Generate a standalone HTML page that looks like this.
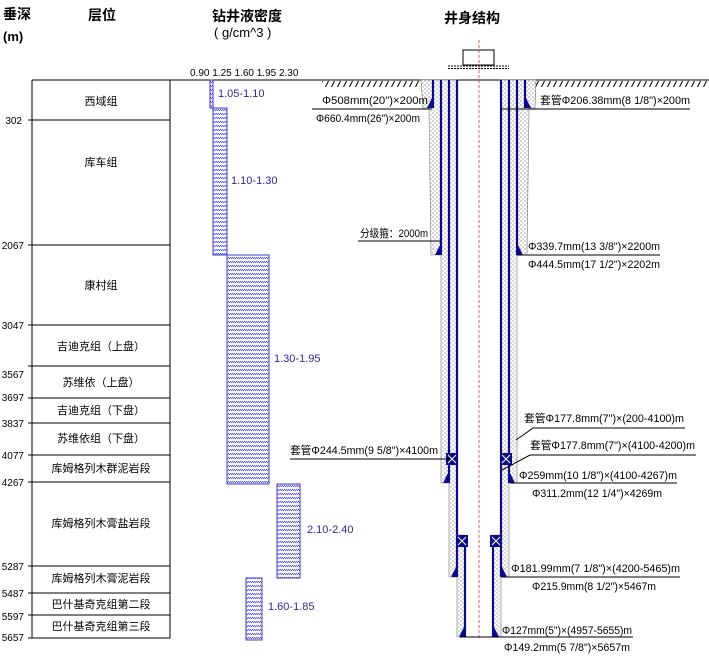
<!DOCTYPE html>
<html><head><meta charset="utf-8"><style>
body{margin:0;background:#fff}
svg{display:block;font-family:"Liberation Sans","Noto Sans CJK SC",sans-serif}
.t{font-size:11px;fill:#000}
.b{font-size:11px;fill:#2a2a9a}
</style></head><body>
<svg width="709" height="671" viewBox="0 0 709 671" xmlns="http://www.w3.org/2000/svg">
<defs>
<pattern id="h" width="4" height="4" patternUnits="userSpaceOnUse">
<rect width="4" height="4" fill="#fff"/><path d="M0,1 L2,3 M2,1 L4,3" stroke="#3a3ad0" stroke-width="0.8"/>
</pattern>
<pattern id="d" width="4" height="4" patternUnits="userSpaceOnUse">
<rect width="4" height="4" fill="#fff"/><circle cx="1" cy="1" r="0.6" fill="#666"/><circle cx="3" cy="3" r="0.6" fill="#888"/>
</pattern>
<pattern id="g" width="6" height="8" patternUnits="userSpaceOnUse">
<path d="M5,0 L1,8" stroke="#000" stroke-width="1"/>
</pattern>
</defs>
<text x="3" y="19" font-size="14" font-weight="bold">垂深</text>
<text x="3" y="41" font-size="13" font-weight="bold">(m)</text>
<text x="88" y="20" font-size="14" font-weight="bold">层位</text>
<text x="212" y="21" font-size="14" font-weight="bold">钻井液密度</text>
<text x="214" y="37" font-size="13">( g/cm^3 )</text>
<text x="444" y="23" font-size="14" font-weight="bold">井身结构</text>
<g stroke="#000" stroke-width="1" fill="none">
<line x1="32" y1="80" x2="32" y2="638"/><line x1="170" y1="80" x2="170" y2="638"/>
<line x1="32" y1="80" x2="320" y2="80"/>
<line x1="28" y1="120" x2="170" y2="120"/><line x1="28" y1="245" x2="170" y2="245"/>
<line x1="28" y1="325" x2="170" y2="325"/><line x1="28" y1="366" x2="170" y2="366"/>
<line x1="28" y1="398" x2="170" y2="398"/><line x1="28" y1="423" x2="170" y2="423"/>
<line x1="28" y1="455" x2="170" y2="455"/><line x1="28" y1="482" x2="170" y2="482"/>
<line x1="28" y1="566" x2="170" y2="566"/><line x1="28" y1="593" x2="170" y2="593"/>
<line x1="28" y1="615" x2="170" y2="615"/><line x1="28" y1="638" x2="170" y2="638"/>
</g>
<g text-anchor="end" font-size="10">
<text x="22" y="124">302</text><text x="24" y="249">2067</text>
<text x="24" y="329">3047</text><text x="24" y="378">3567</text>
<text x="24" y="401">3697</text><text x="24" y="427">3837</text>
<text x="24" y="459">4077</text><text x="24" y="486">4267</text>
<text x="24" y="570">5287</text><text x="24" y="597">5487</text>
<text x="24" y="620">5597</text><text x="24" y="641">5657</text>
</g>
<g class="t" text-anchor="middle">
<text x="101" y="105">西域组</text><text x="101" y="166">库车组</text>
<text x="101" y="289">康村组</text><text x="101" y="350">吉迪克组（上盘）</text>
<text x="101" y="386">苏维依（上盘）</text><text x="101" y="414">吉迪克组（下盘）</text>
<text x="101" y="442">苏维依组（下盘）</text><text x="101" y="472">库姆格列木群泥岩段</text>
<text x="101" y="527">库姆格列木膏盐岩段</text><text x="101" y="582">库姆格列木膏泥岩段</text>
<text x="101" y="608">巴什基奇克组第二段</text><text x="101" y="630">巴什基奇克组第三段</text>
</g>
<text x="190" y="76" font-size="10">0.90 1.25 1.60 1.95 2.30</text>
<g stroke="#3a3ad0" stroke-width="1" fill="url(#h)">
<rect x="210" y="80" width="3" height="28"/>
<rect x="213" y="108" width="14" height="147"/>
<rect x="227" y="255" width="42" height="229"/>
<rect x="277" y="484" width="23" height="94"/>
<rect x="246" y="578" width="16" height="62"/>
</g>
<text class="b" x="218" y="97">1.05-1.10</text>
<text class="b" x="231" y="184">1.10-1.30</text>
<text class="b" x="274" y="362">1.30-1.95</text>
<text class="b" x="307" y="533">2.10-2.40</text>
<text class="b" x="268" y="610">1.60-1.85</text>
<line x1="320" y1="80" x2="709" y2="80" stroke="#000"/>
<rect x="322" y="81" width="99" height="6" fill="url(#g)"/>
<rect x="534" y="81" width="175" height="6" fill="url(#g)"/>
<rect x="463" y="50" width="31" height="15" fill="#fff" stroke="#000"/>
<line x1="448" y1="66" x2="509" y2="66" stroke="#000" stroke-dasharray="2,1"/>
<line x1="448" y1="68.5" x2="509" y2="68.5" stroke="#000" stroke-dasharray="2,1"/>
<path d="M421,80 L457,80 L457,535 L465,535 L465,637 L457,637 L457,577 L449,577 L449,483 L441,483 L441,255 L431,255 L429,108 L423,108 Z" fill="url(#d)" stroke="#777" stroke-width="0.6"/>
<path d="M536,80 L501,80 L501,535 L493,535 L493,637 L501,637 L501,577 L509,577 L509,483 L517,483 L517,255 L527,255 L529,108 L535,108 Z" fill="url(#d)" stroke="#777" stroke-width="0.6"/>
<g stroke="#0a0a8a" stroke-width="2.2">
<line x1="433" y1="80" x2="433" y2="108"/><line x1="525" y1="80" x2="525" y2="108"/>
<line x1="441" y1="80" x2="441" y2="255"/><line x1="517" y1="80" x2="517" y2="255"/>
<line x1="449" y1="80" x2="449" y2="483"/><line x1="509" y1="80" x2="509" y2="483"/>
<line x1="457" y1="80" x2="457" y2="577"/><line x1="501" y1="80" x2="501" y2="577"/>
<line x1="465" y1="535" x2="465" y2="637"/><line x1="493" y1="535" x2="493" y2="637"/>
</g>
<g fill="#0a0a8a">
<path d="M433,96 L433,108 L427,108 Z"/><path d="M525,96 L525,108 L531,108 Z"/>
<path d="M441,243 L441,255 L435,255 Z"/><path d="M517,243 L517,255 L523,255 Z"/>
<path d="M449,471 L449,483 L443,483 Z"/><path d="M509,471 L509,483 L515,483 Z"/>
<path d="M457,565 L457,577 L451,577 Z"/><path d="M501,565 L501,577 L507,577 Z"/>
<path d="M465,625 L465,637 L459,637 Z"/><path d="M493,625 L493,637 L499,637 Z"/>
<rect x="446" y="453" width="12" height="12"/><rect x="500" y="453" width="12" height="12"/>
<rect x="456" y="535" width="12" height="12"/><rect x="490" y="535" width="12" height="12"/>
</g>
<g stroke="#fff" stroke-width="1"><path d="M448,455 L456,463 M456,455 L448,463 M502,455 L510,463 M510,455 L502,463 M458,537 L466,545 M466,537 L458,545 M492,537 L500,545 M500,537 L492,545"/></g>
<line x1="479" y1="40" x2="479" y2="640" stroke="#e03030" stroke-width="0.8" stroke-dasharray="3,2"/>
<line x1="460" y1="637" x2="633" y2="637" stroke="#000"/>
<g stroke="#000" stroke-width="1" fill="none">
<line x1="312" y1="109" x2="432" y2="109"/>
<line x1="500" y1="109" x2="690" y2="109"/>
<line x1="358" y1="241" x2="440" y2="241"/>
<line x1="517" y1="255" x2="660" y2="255"/>
<path d="M516,440 L533,428 L685,428"/>
<path d="M502,470 L530,455 L696,455"/>
<line x1="290" y1="459" x2="450" y2="459"/>
<line x1="510" y1="483" x2="677" y2="483"/>
<line x1="502" y1="577" x2="680" y2="577"/>
</g>
<g class="t">
<text x="322" y="104" textLength="106" lengthAdjust="spacingAndGlyphs">Φ508mm(20")×200m</text>
<text x="316" y="122" textLength="104" lengthAdjust="spacingAndGlyphs">Φ660.4mm(26")×200m</text>
<text x="540" y="104" textLength="150" lengthAdjust="spacingAndGlyphs">套管Φ206.38mm(8 1/8")×200m</text>
<text x="360" y="237" textLength="68" lengthAdjust="spacingAndGlyphs">分级箍：2000m</text>
<text x="528" y="250" textLength="132" lengthAdjust="spacingAndGlyphs">Φ339.7mm(13 3/8")×2200m</text>
<text x="528" y="268" textLength="132" lengthAdjust="spacingAndGlyphs">Φ444.5mm(17 1/2")×2202m</text>
<text x="524" y="422" textLength="160" lengthAdjust="spacingAndGlyphs">套管Φ177.8mm(7")×(200-4100)m</text>
<text x="530" y="449" textLength="165" lengthAdjust="spacingAndGlyphs">套管Φ177.8mm(7")×(4100-4200)m</text>
<text x="290" y="454" textLength="148" lengthAdjust="spacingAndGlyphs">套管Φ244.5mm(9 5/8")×4100m</text>
<text x="519" y="479" textLength="158" lengthAdjust="spacingAndGlyphs">Φ259mm(10 1/8")×(4100-4267)m</text>
<text x="532" y="497" textLength="130" lengthAdjust="spacingAndGlyphs">Φ311.2mm(12 1/4")×4269m</text>
<text x="511" y="572" textLength="169" lengthAdjust="spacingAndGlyphs">Φ181.99mm(7 1/8")×(4200-5465)m</text>
<text x="532" y="590" textLength="124" lengthAdjust="spacingAndGlyphs">Φ215.9mm(8 1/2")×5467m</text>
<text x="502" y="634" textLength="130" lengthAdjust="spacingAndGlyphs">Φ127mm(5")×(4957-5655)m</text>
<text x="504" y="651" textLength="126" lengthAdjust="spacingAndGlyphs">Φ149.2mm(5 7/8")×5657m</text>
</g>
</svg>
</body></html>
